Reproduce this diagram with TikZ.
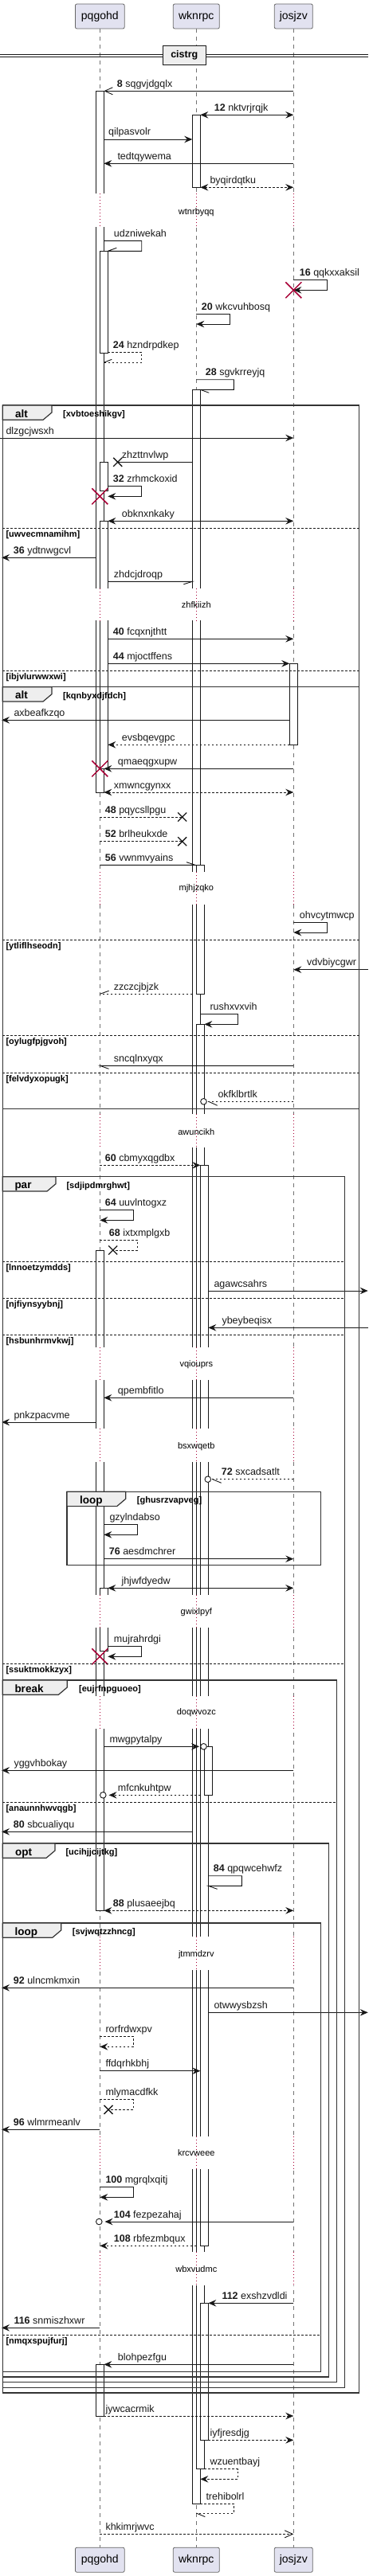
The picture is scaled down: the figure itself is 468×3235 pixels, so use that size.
\documentclass[tikz,border=0pt]{standalone}
\usepackage{fontspec}
\setmainfont{Liberation Sans}
\usetikzlibrary{arrows.meta}
\definecolor{ln}{HTML}{181818}
\definecolor{pfill}{HTML}{E2E2F0}
\definecolor{tabfill}{HTML}{EEEEEE}
\definecolor{dly}{HTML}{A80036}
\newcounter{nc}
\tikzset{
  lifel/.style={draw=black!55, line width=0.7pt, dash pattern=on 5pt off 5pt},
  act/.style={draw=ln, fill=white, line width=0.8pt},
  msg/.style={draw=ln, line width=0.9pt, ->},
  bidi/.style={draw=ln, line width=0.9pt, <->},
  ln1/.style={draw=ln, line width=0.9pt},
  opn/.style={draw=ln, line width=0.9pt, -{Straight Barb[length=10pt,width=9pt]}},
  dsh/.style={dash pattern=on 2.5pt off 2.5pt},
  lbl/.style={anchor=base west, inner sep=0pt, yshift=5pt, font=\fontsize{12.5}{14}\selectfont, text=ln},
  frm/.style={draw=black!80, line width=1.2pt},
  sepl/.style={draw=ln, line width=0.8pt, dash pattern=on 3pt off 2pt},
  kwl/.style={anchor=base west, inner sep=0pt, yshift=-15pt, font=\fontsize{13.5}{15}\selectfont\bfseries},
  grd/.style={anchor=base west, inner sep=0pt, yshift=-14.5pt, font=\fontsize{11}{13}\selectfont\bfseries},
  sgrd/.style={anchor=base west, inner sep=0pt, yshift=-11pt, font=\fontsize{11}{13}\selectfont\bfseries},
  dlyl/.style={draw=dly, line width=1pt, dash pattern=on 1pt off 3pt},
  dlyt/.style={font=\fontsize{11}{13}\selectfont, inner sep=0pt},
  pbox/.style={draw=black!60, fill=pfill, rounded corners=2pt, line width=0.8pt, minimum height=31pt, inner sep=0pt, font=\fontsize{14}{16}\selectfont},
  killx/.style={draw=dly, line width=1.5pt},
  lostx/.style={draw=ln, line width=1.3pt},
  circ/.style={draw=ln, line width=0.9pt, fill=white},
}
\newcommand\mlbl[3]{\stepcounter{nc}\node[lbl] (n\thenc) at (#1,#2) {#3};}
\newcommand\killX[2]{\draw[killx] (#1,#2) ++(-10,-10) -- ++(20,20) ++(0,-20) -- ++(-20,20);}
\newcommand\lostX[2]{\draw[lostx] (#1,#2) ++(-5.5,-5.5) -- ++(11,11) ++(0,-11) -- ++(-11,11);}
\newcommand\delayR[4]{\fill[white] (112,#1) rectangle (382,#2);
  \draw[dlyl] (125.3,#1) -- (125.3,#2) (246.3,#1) -- (246.3,#2) (368.3,#1) -- (368.3,#2);
  \stepcounter{nc}\node[dlyt] (n\thenc) at (246.3,#3) {#4};}
\newcommand\grpF[9]{\draw[frm] (#1,#2) rectangle (#3,#4);
  \draw[frm, fill=tabfill] (#1,#2) -- (#5,#2) -- (#5,#2+9) -- (#5-11,#2+18.3) -- (#1,#2+18.3) -- cycle;
  \stepcounter{nc}\node[kwl] (n\thenc) at (#7,#2) {#6};
  \stepcounter{nc}\node[grd] (n\thenc) at (#9,#2) {#8};}
\newcommand\sepR[4]{\draw[sepl] (#1,#3) -- (#2,#3);
  \stepcounter{nc}\node[sgrd] (n\thenc) at (7.3,#3) {#4};}
\begin{document}
\begin{tikzpicture}[x=1pt,y=-1pt, >={Stealth[length=10pt,width=8.5pt,inset=3.5pt]}]
\useasboundingbox (0,0) rectangle (468,3235);
% participants
\node[pbox, minimum width=61.7pt] (p1) at (125.3,20.5) {pqgohd};
\node[pbox, minimum width=58pt] (w1) at (246.3,20.5) {wknrpc};
\node[pbox, minimum width=48pt] (j1) at (368.3,20.5) {josjzv};
\node[pbox, minimum width=61.7pt] (p2) at (125.3,3214.7) {pqgohd};
\node[pbox, minimum width=58pt] (w2) at (246.3,3214.7) {wknrpc};
\node[pbox, minimum width=48pt] (j2) at (368.3,3214.7) {josjzv};
\draw[lifel] (p1.south) -- (p2.north);
\draw[lifel] (w1.south) -- (w2.north);
\draw[lifel] (j1.south) -- (j2.north);
% divider
\draw[ln, line width=0.9pt] (0,68.3) -- (461.7,68.3) (0,71.7) -- (461.7,71.7);
\node[draw=ln, line width=1.3pt, fill=tabfill, minimum width=54pt, minimum height=24.4pt, inner sep=0pt, font=\fontsize{12.5}{14}\selectfont\bfseries] (div) at (231.3,69.5) {cistrg};
% activations
\draw[act] (120.3,114.3) rectangle (130.3,995);
\draw[act] (125.3,315.3) rectangle (135.3,443.3);
\draw[act] (125.3,580.3) rectangle (135.3,616.3);
\draw[act] (125.3,654.3) rectangle (135.3,965.3);
\draw[act] (120.3,1570) rectangle (130.3,2399.3);
\draw[act] (125.3,1994.3) rectangle (135.3,2073.3);
\draw[act] (120.3,2969.3) rectangle (130.3,3034);
\draw[act] (241.3,144.3) rectangle (251.3,235.3);
\draw[act] (241.3,489.3) rectangle (251.3,3144);
\draw[act] (246.3,1086.3) rectangle (256.3,1248.3);
\draw[act] (246.3,1286.3) rectangle (256.3,3100.7);
\draw[act] (251.3,1463.3) rectangle (261.3,2820.3);
\draw[act] (256.3,2193.3) rectangle (266.3,2254.3);
\draw[act] (251.3,2892.3) rectangle (261.3,3064.3);
\draw[act] (363.3,833.3) rectangle (373.3,935.3);
% delays
\delayR{243.3}{285}{266.7}{wtnrbyqq}
\delayR{739}{779.3}{760}{zhfkiizh}
\delayR{1095}{1136}{1116}{mjhjzqko}
\delayR{1399.3}{1441}{1421.7}{awuncikh}
\delayR{1691.7}{1733.3}{1713.3}{vqiouprs}
\delayR{1794.3}{1836}{1816.7}{bsxwqetb}
\delayR{2003.3}{2044}{2024.3}{gwixlpyf}
\delayR{2130}{2171}{2151}{doqwvozc}
\delayR{2431.7}{2474}{2454.3}{jtmmdzrv}
\delayR{2682.7}{2724}{2704}{krcvweee}
\delayR{2828.3}{2870}{2850}{wbxvudmc}
% messages
\draw[opn] (368.3,114.3) -- (130.3,114.3); \mlbl{146.7}{114.3}{\textbf{8} sqgvjdgqlx}
\draw[bidi] (251.3,144.3) -- (368.3,144.3); \mlbl{268.7}{144.3}{\textbf{12} nktvrjrqjk}
\draw[msg] (130.3,175) -- (241.3,175); \mlbl{136}{175}{qilpasvolr}
\draw[msg] (368.3,205.3) -- (130.3,205.3); \mlbl{147.3}{205.3}{tedtqywema}
\draw[bidi,dsh] (251.3,235.3) -- (368.3,235.3); \mlbl{263.3}{235.3}{byqirdqtku}
\draw[ln1] (130.3,302.3) -- (177.7,302.3) -- (177.7,315.3) -- (135.3,315.3) -- ++(11,-4); \mlbl{142.7}{302.3}{udzniwekah}
\draw[msg] (368.3,351) -- (410.3,351) -- (410.3,364.3) -- (368.3,364.3); \mlbl{375.7}{351}{\textbf{16} qqkxxaksil}
\draw[msg] (246.3,394.3) -- (288.3,394.3) -- (288.3,407) -- (246.3,407); \mlbl{252.7}{394.3}{\textbf{20} wkcvuhbosq}
\draw[ln1,dsh] (135.3,442.3) -- (177.7,442.3) -- (177.7,455.3) -- (130.3,455.3); \draw[ln1] (130.3,455.3) -- ++(10,-4); \mlbl{141.7}{442.3}{\textbf{24} hzndrpdkep}
\draw[ln1] (246.3,476.7) -- (293.3,476.7) -- (293.3,489.3) -- (251.3,489.3) -- ++(11,4); \mlbl{257.7}{476.7}{\textbf{28} sgvkrreyjq}
\draw[msg] (0,550) -- (368.3,550); \mlbl{7.3}{550}{dlzgcjwsxh}
\draw[ln1] (241.3,580.3) -- (147.7,580.3); \lostX{147.7}{580.3} \mlbl{152.7}{580.3}{zhzttnvlwp}
\draw[msg] (135.3,610.3) -- (177.7,610.3) -- (177.7,623.3) -- (135.3,623.3); \mlbl{141.7}{610.3}{\textbf{32} zrhmckoxid}
\draw[bidi] (135.3,654.3) -- (368.3,654.3); \mlbl{152.7}{654.3}{obknxnkaky}
\draw[msg] (120.3,700.3) -- (2,700.3); \mlbl{16.7}{700.3}{\textbf{36} ydtnwgcvl}
\draw[ln1] (135.3,730.3) -- (241.3,730.3) -- ++(-11,3.5); \mlbl{142.7}{730.3}{zhdcjdroqp}
\draw[msg] (135.3,802.3) -- (368.3,802.3); \mlbl{141.7}{802.3}{\textbf{40} fcqxnjthtt}
\draw[msg] (135.3,833.3) -- (363.3,833.3); \mlbl{141.7}{833.3}{\textbf{44} mjoctffens}
\draw[msg] (363.3,904.3) -- (2,904.3); \mlbl{17.3}{904.3}{axbeafkzqo}
\draw[msg,dsh] (363.3,935.3) -- (135.3,935.3); \mlbl{152.7}{935.3}{evsbqevgpc}
\draw[msg] (368.3,965.3) -- (130.3,965.3); \mlbl{147.7}{965.3}{qmaeqgxupw}
\draw[bidi,dsh] (130.3,995) -- (368.3,995); \mlbl{142.7}{995}{xmwncgynxx}
\draw[ln1,dsh] (125.3,1026) -- (228.7,1026); \lostX{228.7}{1026} \mlbl{131.7}{1026}{\textbf{48} pqycsllpgu}
\draw[ln1,dsh] (125.3,1056.7) -- (228.7,1056.7); \lostX{228.7}{1056.7} \mlbl{131.7}{1056.7}{\textbf{52} brlheukxde}
\draw[ln1] (125.3,1086.3) -- (245,1086.3) -- ++(-11,-3.6); \mlbl{131.7}{1086.3}{\textbf{56} vwnmvyains}
\draw[msg] (368.3,1158.3) -- (410.3,1158.3) -- (410.3,1171) -- (368.3,1171); \mlbl{375.7}{1158.3}{ohvcytmwcp}
\draw[msg] (461.7,1217.7) -- (368.3,1217.7); \mlbl{385}{1217.7}{vdvbiycgwr}
\draw[ln1,dsh] (241.3,1248.3) -- (125.3,1248.3); \draw[ln1] (125.3,1248.3) -- ++(11.3,-4); \mlbl{142.7}{1248.3}{zzczcjbjzk}
\draw[msg] (251.3,1273.3) -- (298.3,1273.3) -- (298.3,1286.3) -- (256.3,1286.3); \mlbl{263.3}{1273.3}{rushxvxvih}
\draw[ln1] (368.3,1338.3) -- (125.3,1338.3) -- ++(11.3,4); \mlbl{142.7}{1338.3}{sncqlnxyqx}
\draw[ln1,dsh] (368.3,1383.3) -- (259.3,1383.3); \draw[ln1] (261.7,1383.3) -- ++(11,5); \draw[circ] (255.5,1383.3) circle (3.8pt); \mlbl{273.3}{1383.3}{okfklbrtlk}
\draw[msg,dsh] (125.3,1463.3) -- (251.3,1463.3); \mlbl{131.7}{1463.3}{\textbf{60} cbmyxqgdbx}
\draw[msg] (125.3,1519.3) -- (167.3,1519.3) -- (167.3,1532.3) -- (125.3,1532.3); \mlbl{131.7}{1519.3}{\textbf{64} uuvlntogxz}
\draw[ln1,dsh] (125.3,1557.3) -- (172.7,1557.3) -- (172.7,1570) -- (141.7,1570); \lostX{141.7}{1570} \mlbl{136.7}{1557.3}{\textbf{68} ixtxmplgxb}
\draw[msg] (261.3,1621) -- (461.7,1621); \mlbl{268.3}{1621}{agawcsahrs}
\draw[msg] (461.7,1667.3) -- (261.3,1667.3); \mlbl{278.3}{1667.3}{ybeybeqisx}
\draw[msg] (368.3,1755.3) -- (130.3,1755.3); \mlbl{147.7}{1755.3}{qpembfitlo}
\draw[msg] (120.3,1786) -- (2,1786); \mlbl{17.3}{1786}{pnkzpacvme}
\draw[ln1,dsh] (368.3,1857.7) -- (265,1857.7); \draw[ln1] (266.7,1857.7) -- ++(11,4.6); \draw[circ] (260.8,1857.7) circle (3.8pt); \mlbl{277.7}{1857.7}{\textbf{72} sxcadsatlt}
\draw[msg] (130.3,1914.3) -- (172.7,1914.3) -- (172.7,1927.3) -- (130.3,1927.3); \mlbl{137.3}{1914.3}{gzylndabso}
\draw[msg] (130.3,1957.7) -- (368.3,1957.7); \mlbl{136.7}{1957.7}{\textbf{76} aesdmchrer}
\draw[bidi] (135.3,1994.3) -- (368.3,1994.3); \mlbl{152.3}{1994.3}{jhjwfdyedw}
\draw[msg] (135.3,2067.3) -- (177.7,2067.3) -- (177.7,2080.3) -- (135.3,2080.3); \mlbl{142.7}{2067.3}{mujrahrdgi}
\draw[msg] (130.3,2193.3) -- (250,2193.3); \draw[circ] (255.5,2193.3) circle (3.8pt); \mlbl{137.3}{2193.3}{mwgpytalpy}
\draw[msg] (368.3,2223.3) -- (2,2223.3); \mlbl{17.3}{2223.3}{yggvhbokay}
\draw[msg,dsh] (251.3,2254.3) -- (136.5,2254.3); \draw[circ] (129.3,2254.3) circle (3.8pt); \mlbl{147.7}{2254.3}{mfcnkuhtpw}
\draw[msg] (241.3,2300.3) -- (2,2300.3); \mlbl{16.7}{2300.3}{\textbf{80} sbcualiyqu}
\draw[ln1] (261.3,2355.7) -- (303.3,2355.7) -- (303.3,2368.3) -- (261.3,2368.3) -- ++(11.3,4); \mlbl{267.7}{2355.7}{\textbf{84} qpqwcehwfz}
\draw[bidi,dsh] (130.3,2399.3) -- (368.3,2399.3); \mlbl{141.7}{2399.3}{\textbf{88} plusaeejbq}
\draw[msg] (368.3,2496.3) -- (2,2496.3); \mlbl{16.7}{2496.3}{\textbf{92} ulncmkmxin}
\draw[msg] (261.3,2527.3) -- (461.7,2527.3); \mlbl{268.3}{2527.3}{otwwysbzsh}
\draw[msg,dsh] (125.3,2557.3) -- (167.3,2557.3) -- (167.3,2570.3) -- (125.3,2570.3); \mlbl{132.3}{2557.3}{rorfrdwxpv}
\draw[msg] (125.3,2600.7) -- (251.3,2600.7); \mlbl{132.3}{2600.7}{ffdqrhkbhj}
\draw[ln1,dsh] (125.3,2636.7) -- (167.3,2636.7) -- (167.3,2649.3) -- (136,2649.3); \lostX{136}{2649.3} \mlbl{132.3}{2636.7}{mlymacdfkk}
\draw[msg] (125.3,2674.3) -- (2,2674.3); \mlbl{16.7}{2674.3}{\textbf{96} wlmrmeanlv}
\draw[msg] (125.3,2746.7) -- (167.3,2746.7) -- (167.3,2759.3) -- (125.3,2759.3); \mlbl{132.3}{2746.7}{\textbf{100} mgrqlxqitj}
\draw[msg] (368.3,2790) -- (131.5,2790); \draw[circ] (124.3,2790) circle (3.8pt); \mlbl{142.7}{2790}{\textbf{104} fezpezahaj}
\draw[msg,dsh] (246.3,2820.3) -- (125.3,2820.3); \mlbl{142.7}{2820.3}{\textbf{108} rbfezmbqux}
\draw[msg] (368.3,2892.3) -- (261.3,2892.3); \mlbl{278.3}{2892.3}{\textbf{112} exshzvdldi}
\draw[msg] (125.3,2923.3) -- (2,2923.3); \mlbl{17.3}{2923.3}{\textbf{116} snmiszhxwr}
\draw[msg] (368.3,2969.3) -- (130.3,2969.3); \mlbl{147.7}{2969.3}{blohpezfgu}
\draw[msg,dsh] (130.3,3034) -- (368.3,3034); \mlbl{132.3}{3034}{jywcacrmik}
\draw[msg,dsh] (261.3,3064.3) -- (368.3,3064.3); \mlbl{263.3}{3064.3}{iyfjresdjg}
\draw[msg,dsh] (256.3,3100.7) -- (298.3,3100.7) -- (298.3,3113.3) -- (251.3,3113.3); \mlbl{263.3}{3100.7}{wzuentbayj}
\draw[ln1,dsh] (251.3,3144) -- (293.3,3144) -- (293.3,3156) -- (246.3,3156); \draw[ln1] (246.3,3156) -- ++(11,4.6); \mlbl{258.3}{3144}{trehibolrl}
\draw[opn,dsh] (125.3,3182.3) -- (368.3,3182.3); \mlbl{132.3}{3182.3}{khkimrjwvc}
% destroys
\killX{368.3}{364.3}
\killX{125.3}{623.3}
\killX{125.3}{965.3}
\killX{125.3}{2080.3}
% frames
\grpF{3.3}{509}{450.7}{3005}{65}{alt}{19}{[xvbtoeshikgv]}{79}
\sepR{3.3}{450.7}{663.3}{[uwvecmnamihm]}
\sepR{3.3}{450.7}{842.3}{[ibjvlurwwxwi]}
\grpF{3.3}{862.7}{450.7}{1392.3}{65}{alt}{19}{[kqnbyxdjfdch]}{79}
\sepR{3.3}{450.7}{1180}{[ytliflhseodn]}
\sepR{3.3}{450.7}{1300}{[oylugfpjgvoh]}
\sepR{3.3}{450.7}{1347.3}{[felvdyxopugk]}
\grpF{3.3}{1477.7}{432.7}{2998.3}{70}{par}{18.3}{[sdjipdmrghwt]}{83.3}
\sepR{3.3}{432.7}{1584.3}{[lnnoetzymdds]}
\sepR{3.3}{432.7}{1630.3}{[njfiynsyybnj]}
\sepR{3.3}{432.7}{1676}{[hsbunhrmvkwj]}
\sepR{3.3}{432.7}{2089.3}{[ssuktmokkzyx]}
\grpF{84}{1873.3}{402.7}{1965.3}{157.7}{loop}{100}{[ghusrzvapveg]}{171.7}
\grpF{3.3}{2110}{422.7}{2991.7}{84.3}{break}{18.3}{[eujrfnpguoeo]}{99}
\sepR{3.3}{422.7}{2263.3}{[anaunnhwvqgb]}
\grpF{3.3}{2315}{412.7}{2985}{69}{opt}{19}{[ucihjjcijtkg]}{82.3}
\grpF{3.3}{2415}{402.7}{2978.3}{76.7}{loop}{18.3}{[svjwqtzzhncg]}{90.7}
\sepR{3.3}{402.7}{2932.3}{[nmqxspujfurj]}
\end{tikzpicture}
\end{document}
